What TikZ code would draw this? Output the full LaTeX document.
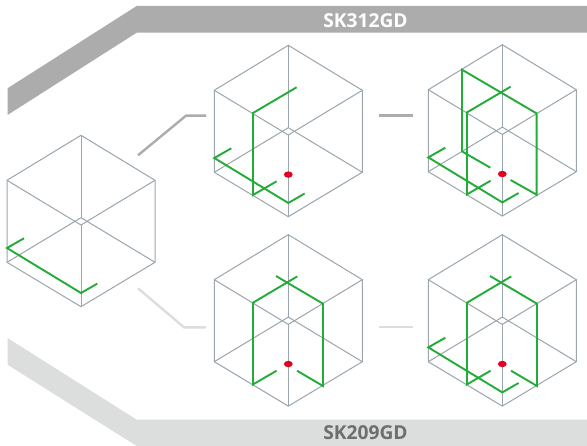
\documentclass[tikz,border=0pt]{standalone}
\usepackage{fontspec}
\setmainfont{Open Sans}
\definecolor{wire}{HTML}{9AA5AE}
\definecolor{laser}{HTML}{22AC38}
\definecolor{dotred}{HTML}{E60020}
\definecolor{bandA}{HTML}{ABACAB}
\definecolor{bandB}{HTML}{DCDDDD}
\definecolor{txtB}{HTML}{6E6E6E}
\tikzset{
  wireline/.style={draw=wire,line width=1bp,line join=miter},
  greenline/.style={draw=laser,line width=1.9bp,line join=miter},
  linkA/.style={draw=bandA,line width=2.4bp},
  linkB/.style={draw=bandB,line width=2.4bp},
  bandtext/.style={font=\bfseries\fontsize{19.2bp}{22bp}\selectfont,inner sep=0pt,anchor=center},
}
\newcommand{\wirecube}[2]{%
  \begin{scope}[shift={(#1,#2)}]
    \draw[wireline] (-74,45) -- (0,0) -- (74,45) -- (74,127) -- (0,171.4) -- (-74,127) -- cycle;
    \draw[wireline] (0,0) -- (0,82.4);
    \draw[wireline] (0,89.7) -- (0,171.4);
    \draw[wireline] (-74,45) -- (0,89.7) -- (74,45);
    \draw[wireline] (-74,127) -- (0,82.4) -- (74,127);
  \end{scope}}
\newcommand{\floorline}[2]{\draw[greenline,shift={(#1,#2)}] (-57,103) -- (-74,112.7) -- (0,157.7) -- (16.3,148.3);}
\newcommand{\reddot}[2]{\fill[dotred,shift={(#1,#2)}] (0,129.3) ellipse [x radius=4.4,y radius=3.2];}
\begin{document}
\begin{tikzpicture}[x=1bp,y=-1bp]
\useasboundingbox (0,0) rectangle (587,446);
\fill[white] (0,0) rectangle (587,446);
% banners
\fill[bandA] (7.5,88.3) -- (136.7,6) -- (587,6) -- (587,32.7) -- (136.7,32.7) -- (7.5,115) -- cycle;
\fill[bandB] (7.5,338) -- (136.7,419.7) -- (587,419.7) -- (587,446) -- (136.7,446) -- (7.5,364.7) -- cycle;
\node[bandtext,text=white] (titleA) at (365.5,21) {SK312GD};
\node[bandtext,text=txtB] (titleB) at (365.5,433) {SK209GD};
% connectors
\coordinate (a1) at (138,155.3); \coordinate (a2) at (186,115.7); \coordinate (a3) at (206,115.7);
\coordinate (b1) at (379,115.7); \coordinate (b2) at (413,115.7);
\coordinate (c1) at (138,288.3); \coordinate (c2) at (184,327.3); \coordinate (c3) at (206,327.3);
\coordinate (d1) at (379,327); \coordinate (d2) at (413,327);
\draw[linkA] (a1) -- (a2) -- (a3);
\draw[linkA] (b1) -- (b2);
\draw[linkB] (c1) -- (c2) -- (c3);
\draw[linkB] (d1) -- (d2);
% cubes
\wirecube{81}{135.3}
\wirecube{288.3}{45.3}
\wirecube{502.3}{44.7}
\wirecube{288.3}{234.7}
\wirecube{502.3}{234.7}
% left cube
\floorline{81}{135.3}
% top middle
\floorline{288.3}{45.3}
\draw[greenline,shift={(288.3,45.3)}] (8.3,42) -- (-35.3,67.7) -- (-35.3,149.7) -- (-11.7,136);
\reddot{288.3}{45.3}
% top right
\floorline{502.3}{44.7}
\draw[greenline,shift={(502.3,44.7)}] (8.3,42) -- (-35.3,67.7) -- (-35.3,149.7) -- (-11.7,136);
\draw[greenline,shift={(502.3,44.7)}] (-12,123) -- (-40.3,106.7) -- (-40.3,25) -- (34.3,68.7) -- (34.3,150) -- (8.3,135.3);
\reddot{502.3}{44.7}
% bottom middle
\draw[greenline,shift={(288.3,234.7)}] (-11.7,136) -- (-35.3,149.7) -- (-35.3,68) -- (9,41.7);
\draw[greenline,shift={(288.3,234.7)}] (-12.3,41.3) -- (34.7,69) -- (34.7,151.3) -- (8.7,136);
\reddot{288.3}{234.7}
% bottom right
\floorline{502.3}{234.7}
\draw[greenline,shift={(502.3,234.7)}] (-11.7,136) -- (-35.3,149.7) -- (-35.3,68) -- (9,41.7);
\draw[greenline,shift={(502.3,234.7)}] (-12.3,41.3) -- (34.7,69) -- (34.7,151.3) -- (8.7,136);
\reddot{502.3}{234.7}
\end{tikzpicture}
\end{document}
